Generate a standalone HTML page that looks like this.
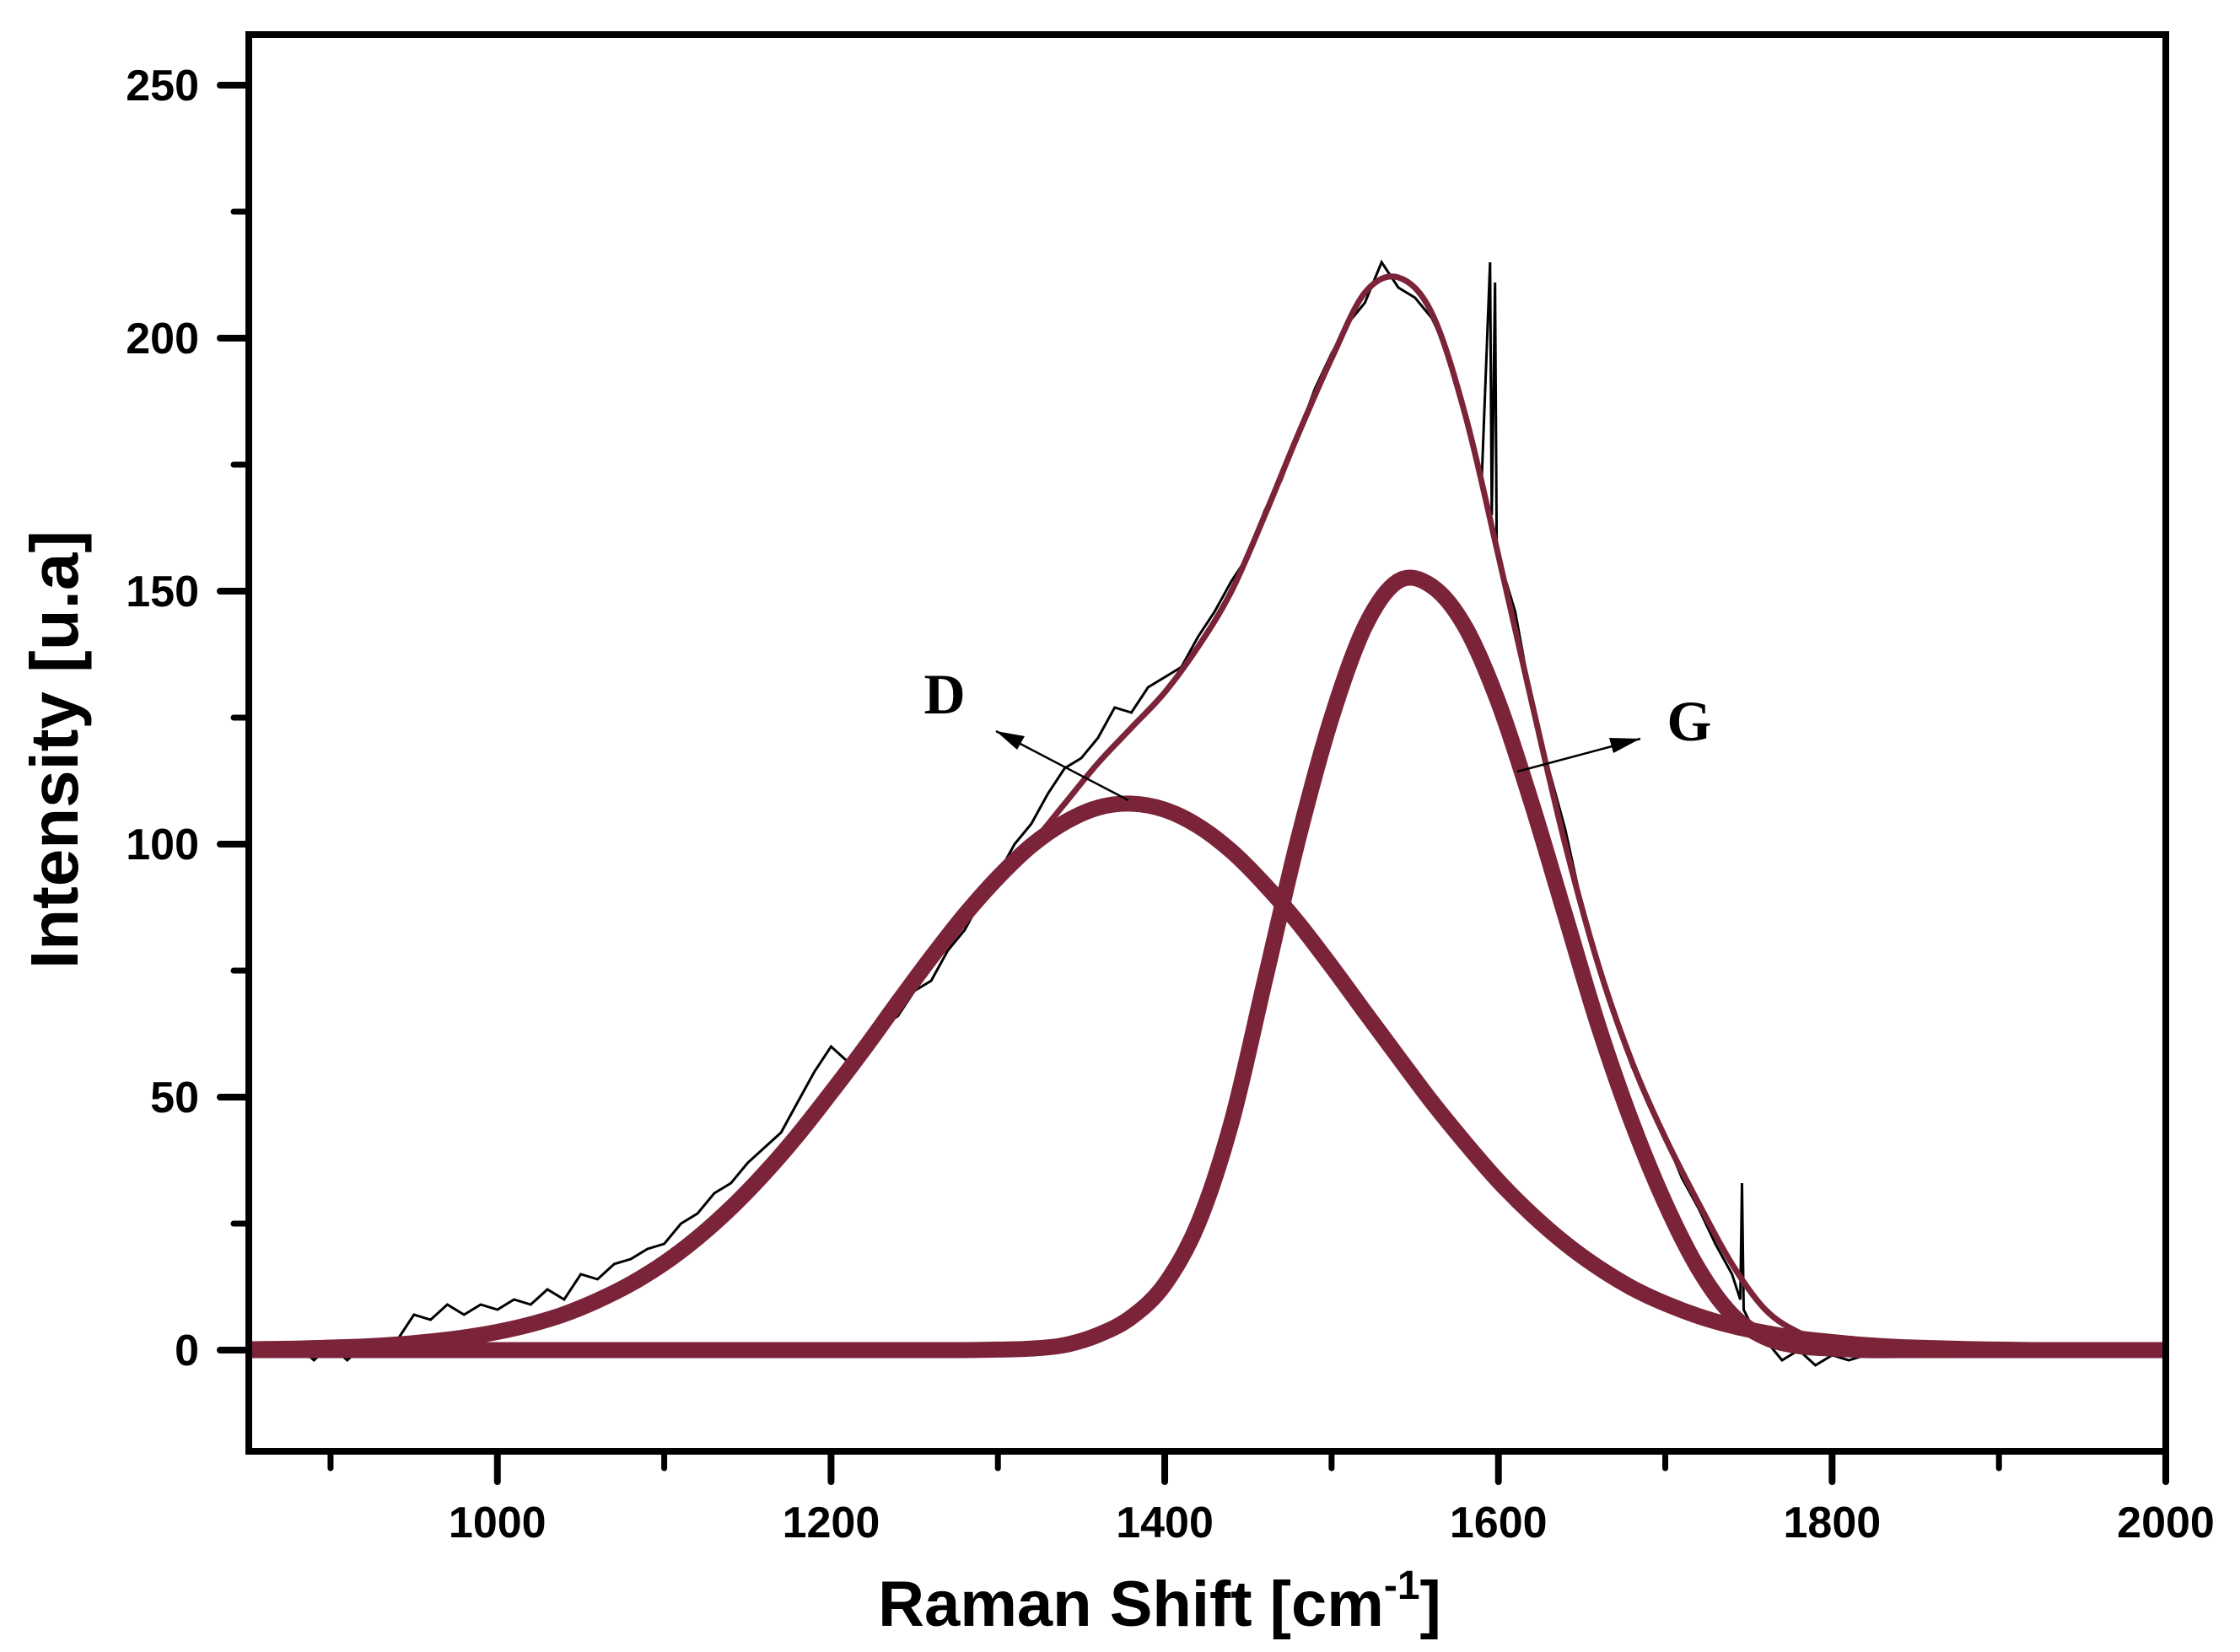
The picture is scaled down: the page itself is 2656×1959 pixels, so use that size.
<!DOCTYPE html>
<html><head><meta charset="utf-8"><style>
html,body{margin:0;padding:0;background:#fff;}
svg{display:block;}
</style></head><body>
<svg id="chart" width="2656" height="1959" viewBox="0 0 2656 1959" xmlns="http://www.w3.org/2000/svg">
<defs>
<clipPath id="plotClip"><rect x="299" y="45" width="2265" height="1672"/></clipPath>
</defs>
<g id="ticks"></g>
<g id="series" clip-path="url(#plotClip)"></g>
<rect x="295" y="41" width="2273" height="1680" fill="none" stroke="#000" stroke-width="8"/>
<g>
<line x1="1338" y1="949" x2="1181" y2="867" stroke="#000" stroke-width="2.5"/>
<path d="M1181,867 L1215,873 L1206,889 Z" fill="#000"/>
<text x="1120" y="846" font-family="Liberation Serif, serif" font-weight="bold" font-size="68" text-anchor="middle">D</text>
</g>
<g>
<line x1="1799" y1="915" x2="1945" y2="876" stroke="#000" stroke-width="2.5"/>
<path d="M1945,876 L1913,893 L1908,875 Z" fill="#000"/>
<text x="2003" y="878" font-family="Liberation Serif, serif" font-weight="bold" font-size="68" text-anchor="middle">G</text>
</g>
<text x="1375" y="1928" font-family="Liberation Sans, sans-serif" font-weight="bold" font-size="76" text-anchor="middle">Raman Shift [cm<tspan dy="-32" font-size="48">-1</tspan><tspan dy="32">]</tspan></text>
<text transform="translate(92,889) rotate(-90)" font-family="Liberation Sans, sans-serif" font-weight="bold" font-size="80" text-anchor="middle">Intensity [u.a]</text>
</svg>
<script>
const xMajorTicks = [1000, 1200, 1400, 1600, 1800, 2000];
const xMinorTicks = [900, 1100, 1300, 1500, 1700, 1900];
const yMajorTicks = [0, 50, 100, 150, 200, 250];
const yMinorTicks = [25, 75, 125, 175, 225];
const fitStartX = 840, fitStepX = 20, fitCount = 59;
const dBand = [0.1,0.2,0.3,0.5,0.7,1.1,1.7,2.5,3.6,5.1,7.1,9.8,13.1,17.2,22.2,28.1,34.9,42.5,50.9,59.6,68.7,77.6,86,93.4,99.7,104.3,107.2,108,106.8,103.6,98.6,92,84.4,75.8,66.8,57.9,49.1,41,33.4,26.8,21.1,16.3,12.3,9.2,6.7,4.8,3.4,2.3,1.6,1.0,0.6,0.4,0.2,0.1,0,0,0,0,0];
const gBand = [0,0,0,0,0,0,0,0,0,0,0,0,0,0,0,0,0,0,0,0,0,0,0,0.1,0.3,1,3,6.5,13,25,45,73,101,125,143,152,151,143,128,108,86,64,45,29,16,7,2.5,0.8,0.3,0,0,0,0,0,0,0,0,0,0];
const envelope = [0.1,0.2,0.3,0.5,0.7,1.1,1.7,2.5,3.6,5.1,7.1,9.8,13.1,17.2,22.2,28.1,34.9,42.5,50.9,59.6,68.7,77.6,86,93.4,100,108,116,123,130,139,150,165,181,196,209,212,205,185,157,128,100,76,57,42,29,17,8,3.5,1.5,0.8,0.4,0.2,0,0,0,0,0,0,0];
const dataX = [880,890,900,910,920,930,940,950,960,970,980,990,1000,1010,1020,1030,1040,1050,1060,1070,1080,1090,1100,1110,1120,1130,1140,1150,1160,1170,1180,1190,1200,1210,1220,1230,1240,1250,1260,1270,1280,1290,1300,1310,1320,1330,1340,1350,1360,1370,1380,1390,1400,1410,1420,1430,1440,1450,1460,1470,1480,1490,1500,1510,1520,1530,1540,1550,1560,1570,1580,1590,1595,1596,1598,1599,1610,1620,1630,1640,1650,1660,1670,1680,1690,1700,1710,1720,1730,1740,1745,1746,1747,1750,1760,1770,1780,1790,1800,1810,1820];
const dataY = [1,-2,1,-2,1,0,2,7,6,9,7,9,8,10,9,12,10,15,14,17,18,20,21,25,27,31,33,37,40,43,49,55,60,57,59,64,66,71,73,79,83,89,94,100,104,110,115,117,121,127,126,131,133,135,141,146,152,157,166,172,181,190,197,203,207,215,210,208,204,197,186,172,215,165,211,158,146,128,115,103,88,76,66,56,50,42,34,28,21,15,10,33,8,6,2,-2,0,-3,-1,-2,-1];

const X0 = 295, X1 = 2568, XMIN = 851, XMAX = 2000;
const YZERO = 1601, YPX = 6.0;
function sx(v){ return X0 + (v - XMIN) * (X1 - X0) / (XMAX - XMIN); }
function sy(v){ return YZERO - v * YPX; }
const NS = 'http://www.w3.org/2000/svg';
const ticksG = document.getElementById('ticks');
const seriesG = document.getElementById('series');

function mk(tag, attrs, parent){
  const el = document.createElementNS(NS, tag);
  for (const k in attrs) el.setAttribute(k, attrs[k]);
  parent.appendChild(el);
  return el;
}
xMajorTicks.forEach(v => {
  const t = mk('line', {x1: sx(v), x2: sx(v), y1: 1721, y2: 1757, stroke: '#000', 'stroke-width': 8, 'stroke-linecap': 'round'}, ticksG);
  
  
  const l = mk('text', {x: sx(v), y: 1823, 'font-family': 'Liberation Sans, sans-serif', 'font-weight': 'bold', 'font-size': 52, 'text-anchor': 'middle'}, ticksG);
  l.textContent = String(v);
  
  
});
xMinorTicks.forEach(v => {
  const t = mk('line', {x1: sx(v), x2: sx(v), y1: 1721, y2: 1741, stroke: '#000', 'stroke-width': 7, 'stroke-linecap': 'round'}, ticksG);
  
  
});
yMajorTicks.forEach(v => {
  const t = mk('line', {x1: 261, x2: 295, y1: sy(v), y2: sy(v), stroke: '#000', 'stroke-width': 8, 'stroke-linecap': 'round'}, ticksG);
  
  
  const l = mk('text', {x: 236, y: sy(v) + 18, 'font-family': 'Liberation Sans, sans-serif', 'font-weight': 'bold', 'font-size': 52, 'text-anchor': 'end'}, ticksG);
  l.textContent = String(v);
  
  
});
yMinorTicks.forEach(v => {
  const t = mk('line', {x1: 277, x2: 295, y1: sy(v), y2: sy(v), stroke: '#000', 'stroke-width': 7, 'stroke-linecap': 'round'}, ticksG);
  
  
});

function smoothPath(pts){
  let d = 'M' + pts[0][0].toFixed(1) + ',' + pts[0][1].toFixed(1);
  for (let i = 0; i < pts.length - 1; i++){
    const p0 = pts[Math.max(0, i-1)], p1 = pts[i], p2 = pts[i+1], p3 = pts[Math.min(pts.length-1, i+2)];
    const c1x = p1[0] + (p2[0]-p0[0])/6, c1y = p1[1] + (p2[1]-p0[1])/6;
    const c2x = p2[0] - (p3[0]-p1[0])/6, c2y = p2[1] - (p3[1]-p1[1])/6;
    d += ' C' + c1x.toFixed(1) + ',' + c1y.toFixed(1) + ' ' + c2x.toFixed(1) + ',' + c2y.toFixed(1) + ' ' + p2[0].toFixed(1) + ',' + p2[1].toFixed(1);
  }
  return d;
}
function fitPts(arr){
  const pts = [];
  for (let i = 0; i < fitCount; i++) pts.push([sx(fitStartX + i*fitStepX), sy(arr[i])]);
  return pts;
}
const dataPts = dataX.map((x, i) => [sx(x), sy(dataY[i])]);
const raw = mk('polyline', {points: dataPts.map(p => p[0].toFixed(1) + ',' + p[1].toFixed(1)).join(' '), fill: 'none', stroke: '#000', 'stroke-width': 3, 'stroke-linejoin': 'miter'}, seriesG);



const MAROON = '#7b2439';
const dPath = mk('path', {d: smoothPath(fitPts(dBand)), fill: 'none', stroke: MAROON, 'stroke-width': 19, 'stroke-linejoin': 'round'}, seriesG);


const gPath = mk('path', {d: smoothPath(fitPts(gBand)), fill: 'none', stroke: MAROON, 'stroke-width': 19, 'stroke-linejoin': 'round'}, seriesG);


const ePath = mk('path', {d: smoothPath(fitPts(envelope)), fill: 'none', stroke: MAROON, 'stroke-width': 7, 'stroke-linejoin': 'round'}, seriesG);


</script>
</body></html>
